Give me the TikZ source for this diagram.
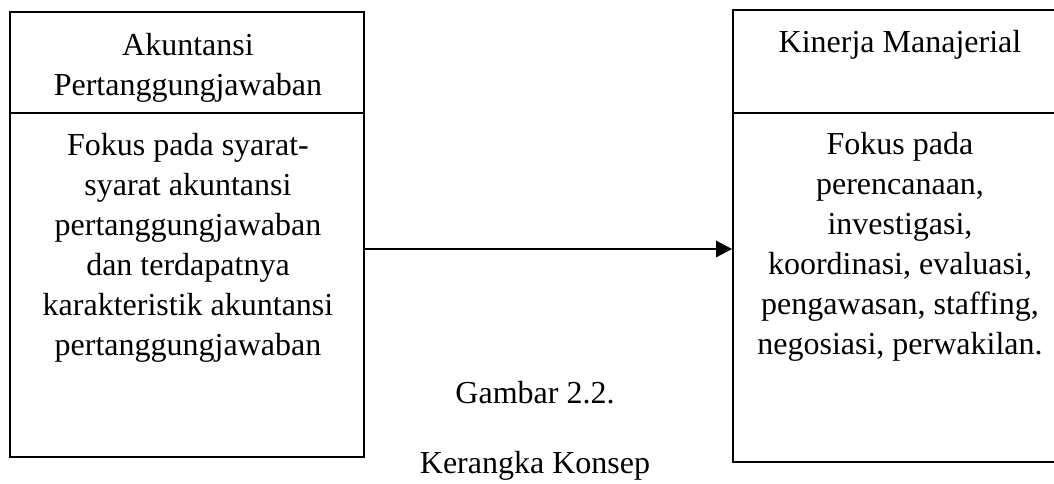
\documentclass[tikz,border=0pt]{standalone}
\usepackage{fontspec}
\setmainfont{Liberation Serif}
\usetikzlibrary{positioning,arrows.meta}

\begin{document}
\begin{tikzpicture}[x=0.75pt,y=-0.75pt,
    txt/.style={font=\fontsize{24}{30}\selectfont, align=center, inner sep=0pt, anchor=base},
    frame/.style={draw, line width=1.3pt, inner sep=0pt},
  ]
  \useasboundingbox (0,0) rectangle (1054,483);
  % boxes
  \node [frame, minimum width=265.5pt, minimum height=75.75pt] (akHead) at (187,62.5) {};
  \node [frame, minimum width=265.5pt, minimum height=258pt] (akBody) at (187,285) {};
  \node [frame, minimum width=250.5pt, minimum height=77.25pt] (kmHead) at (900,61.5) {};
  \node [frame, minimum width=250.5pt, minimum height=261.75pt] (kmBody) at (900,287.5) {};
  % texts (base = last line)
  \node [txt] (akTitle) at (188,95) {Akuntansi\\Pertanggungjawaban};
  \node [txt] (akText) at (188,355) {Fokus pada syarat-\\syarat akuntansi\\pertanggungjawaban\\dan terdapatnya\\karakteristik akuntansi\\pertanggungjawaban};
  \node [txt] (kmTitle) at (900,52) {Kinerja Manajerial};
  \node [txt] (kmText) at (900,354) {Fokus pada\\perencanaan,\\investigasi,\\koordinasi, evaluasi,\\pengawasan, staffing,\\negosiasi, perwakilan.};
  \node [txt] (capNum) at (535,403) {Gambar 2.2.};
  \node [txt] (capName) at (535,473) {Kerangka Konsep};
  % connector
  \coordinate (arrowY) at (0,249);
  \draw [-{Triangle[length=12pt,width=12pt]}, line width=2pt] (akBody.east |- arrowY) -- (kmBody.west |- arrowY);
\end{tikzpicture}
\end{document}
